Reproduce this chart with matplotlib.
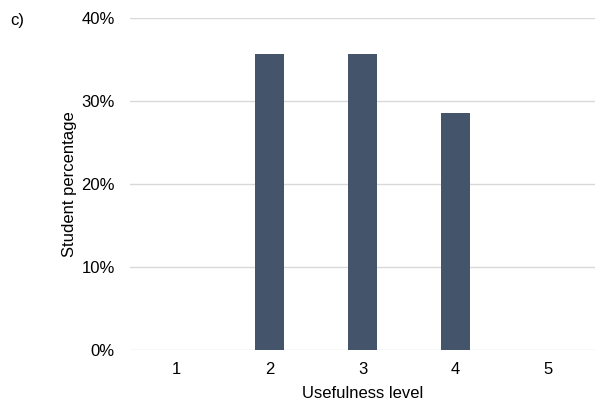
import matplotlib
matplotlib.use('Agg')
import matplotlib.pyplot as plt
from matplotlib.ticker import FuncFormatter

levels = ['1', '2', '3', '4', '5']
share = [0.0, 0.357, 0.357, 0.286, 0.0]

plt.rcParams['font.family'] = ['Liberation Sans', 'DejaVu Sans']

fig = plt.figure(figsize=(5.96, 4.05), dpi=100)
ax = fig.add_axes([130 / 596, 55 / 405, 465 / 596, 332 / 405])

x = range(1, len(levels) + 1)
ax.bar(x, share, width=0.32, color='#44546A', zorder=3)

ax.set_xlim(0.5, 5.5)
ax.set_ylim(0, 0.4)
ax.set_yticks([0, 0.1, 0.2, 0.3, 0.4])
ax.yaxis.set_major_formatter(FuncFormatter(lambda v, p: f'{v * 100:.0f}%'))
ax.set_xticks(list(x))
ax.set_xticklabels(levels)

ax.grid(axis='y', color='#D9D9D9', linewidth=1, zorder=0)
for s in ax.spines.values():
    s.set_visible(False)
ax.tick_params(length=0, labelsize=12, colors='black')
ax.tick_params(axis='y', pad=11)
ax.tick_params(axis='x', pad=9)

ax.set_xlabel('Usefulness level', fontsize=12, labelpad=6)
ax.set_ylabel('Student percentage', fontsize=12, labelpad=3)

fig.text(10 / 596, 1 - 20 / 405, 'c)', fontsize=12, va='center')

fig.savefig('out.png', dpi=100)
